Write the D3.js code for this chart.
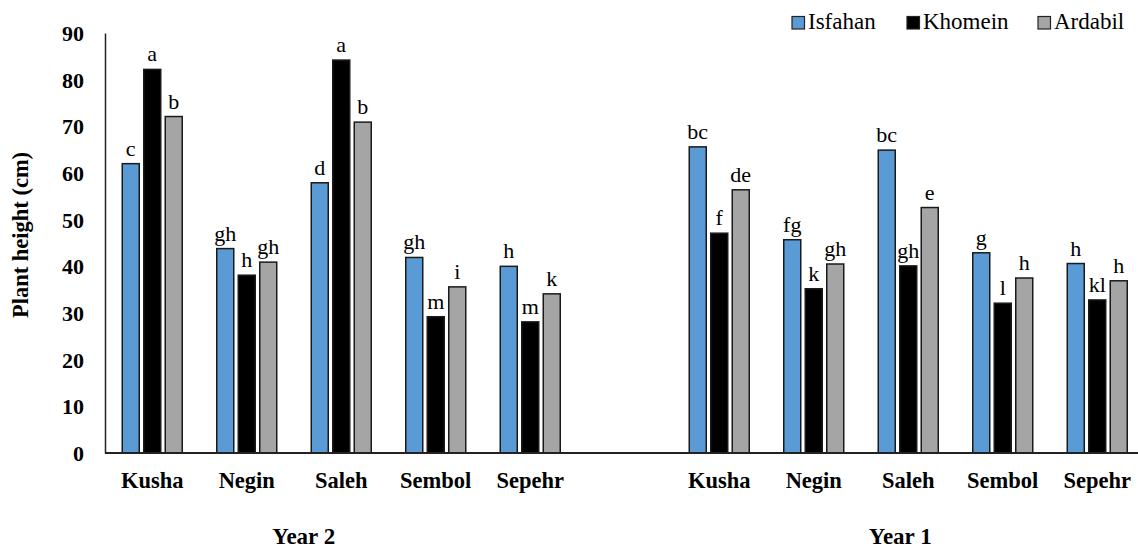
<!DOCTYPE html>
<html>
<head>
<meta charset="utf-8">
<script src="https://cdn.jsdelivr.net/npm/d3@7"></script>
<style>
  html, body { margin: 0; padding: 0; background: #fff; }
  svg { display: block; }
  svg text { font-family: "Liberation Serif", "Times New Roman", Times, Tinos, "Nimbus Roman", "DejaVu Serif", serif !important; fill: #000; }
</style>
</head>
<body>
<svg id="chart" width="1138" height="549"></svg>
<script>
// Plant height (cm) of five cultivars at three locations, two years
const years = ["Year 2", "Year 1"];
const cultivars = ["Kusha", "Negin", "Saleh", "Sembol", "Sepehr"];
const locations = ["Isfahan", "Khomein", "Ardabil"];

// values per location, Year 2 cultivars first, then Year 1
const isfahan = [62, 43.8, 57.9, 41.9, 40, 65.6, 45.7, 64.9, 42.9, 40.6];
const khomein = [82.2, 38.1, 84.2, 29.2, 28.1, 47.1, 35.2, 40.1, 32.1, 32.8];
const ardabil = [72.1, 40.9, 70.9, 35.6, 34.1, 56.4, 40.5, 52.6, 37.5, 36.9];

// mean-separation letters, same order
const isfahanLetters = ["c", "gh", "d", "gh", "h", "bc", "fg", "bc", "g", "h"];
const khomeinLetters = ["a", "h", "a", "m", "m", "f", "k", "gh", "l", "kl"];
const ardabilLetters = ["b", "gh", "b", "i", "k", "de", "gh", "e", "h", "h"];

const yTicks = [0, 10, 20, 30, 40, 50, 60, 70, 80, 90];

const seriesValues = [isfahan, khomein, ardabil];
const seriesLetters = [isfahanLetters, khomeinLetters, ardabilLetters];
const colors = { Isfahan: "#5B9BD5", Khomein: "#000000", Ardabil: "#A5A5A5" };

const svg = d3.select("#chart");

// category slots: Year 2 cultivars, one empty spacer, Year 1 cultivars
const slots = [];
years.forEach((yr, yi) => {
  if (yi > 0) slots.push("spacer");
  cultivars.forEach(c => slots.push(yr + "|" + c));
});

const x0 = d3.scaleBand().domain(slots).range([105, 1144.5]).padding(0);
const x1 = d3.scaleBand().domain(locations).range([-30, 30]).paddingInner(0.209).paddingOuter(0);
const y = d3.scaleLinear().domain([0, 90]).range([453, 33]);

// flatten into bar records
const bars = [];
years.forEach((yr, yi) => {
  cultivars.forEach((c, ci) => {
    const idx = yi * cultivars.length + ci;
    locations.forEach((loc, li) => {
      bars.push({ slot: yr + "|" + c, loc, value: seriesValues[li][idx], letter: seriesLetters[li][idx] });
    });
  });
});
const cx = d => x0(d.slot) + x0.bandwidth() / 2;

// bars
svg.append("g").selectAll("rect").data(bars).join("rect")
  .attr("x", d => cx(d) + x1(d.loc))
  .attr("y", d => y(d.value))
  .attr("width", x1.bandwidth())
  .attr("height", d => y(0) - y(d.value))
  .attr("fill", d => colors[d.loc])
  .attr("stroke", "#1a1a1a")
  .attr("stroke-width", 1.5);

// letters above bars
svg.append("g").selectAll("text").data(bars).join("text")
  .attr("x", d => cx(d) + x1(d.loc) + x1.bandwidth() / 2)
  .attr("y", d => y(d.value) - 8)
  .attr("text-anchor", "middle")
  .style("font-size", "22px")
  .text(d => d.letter);

// y axis
const yAxis = d3.axisLeft(y).tickValues(yTicks).tickSize(0).tickPadding(21);
const gy = svg.append("g").attr("transform", "translate(105,0)").call(yAxis)
  .attr("font-family", null);
gy.select(".domain").attr("stroke", "#222").attr("stroke-width", 1.5);
gy.selectAll(".tick text")
  .style("font-size", "22px")
  .style("font-weight", "bold")
  .attr("fill", "#000")
  .attr("dy", "0.34em");

// x baseline
svg.append("line")
  .attr("x1", 105).attr("x2", 1144.5)
  .attr("y1", y(0)).attr("y2", y(0))
  .attr("stroke", "#222").attr("stroke-width", 1.8);

// cultivar labels
const catLabels = slots.filter(s => s !== "spacer");
svg.append("g").selectAll("text").data(catLabels).join("text")
  .attr("x", s => x0(s) + x0.bandwidth() / 2)
  .attr("y", 488)
  .attr("text-anchor", "middle")
  .style("font-size", "22.5px")
  .style("font-weight", "bold")
  .text(s => s.split("|")[1]);

// year labels
const yearLabelX = [
  x0("Year 2|Negin") + x0.bandwidth() / 2 + 57,
  x0("Year 1|Saleh") + x0.bandwidth() / 2 - 8
];
svg.append("g").selectAll("text").data(years).join("text")
  .attr("x", (d, i) => yearLabelX[i])
  .attr("y", 544)
  .attr("text-anchor", "middle")
  .style("font-size", "23px")
  .style("font-weight", "bold")
  .text(d => d);

// y axis title
svg.append("text")
  .attr("transform", "translate(28,235) rotate(-90)")
  .attr("text-anchor", "middle")
  .style("font-size", "22.5px")
  .style("font-weight", "bold")
  .text("Plant height (cm)");

// legend
const legendX = [792, 907, 1038];
const lg = svg.append("g").selectAll("g").data(locations).join("g")
  .attr("transform", (d, i) => `translate(${legendX[i]},0)`);
lg.append("rect")
  .attr("x", 0).attr("y", 16.5).attr("width", 12.5).attr("height", 12.5)
  .attr("fill", d => colors[d]).attr("stroke", "#222").attr("stroke-width", 1.2);
lg.append("text")
  .attr("x", 16).attr("y", 29)
  .style("font-size", "23px")
  .text(d => d);
</script>
</body>
</html>
